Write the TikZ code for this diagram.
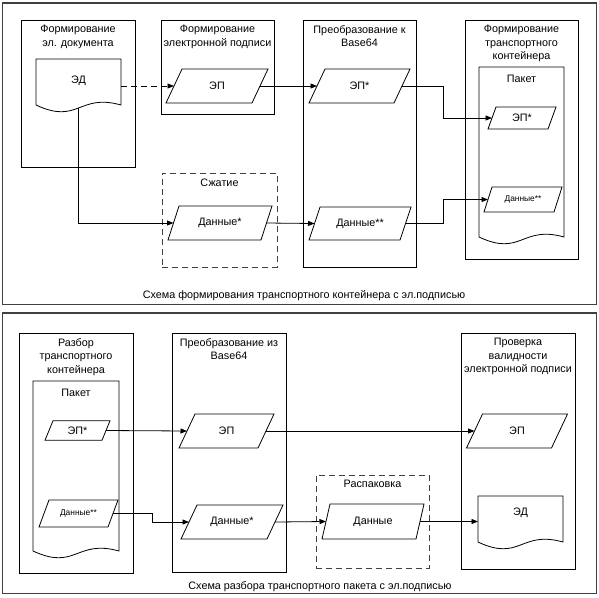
\documentclass[tikz,border=0pt]{standalone}
\usepackage{fontspec}
\setmainfont{Liberation Sans}
\usetikzlibrary{arrows.meta,fit}

% parallelogram (data) node: name, cx, cy, width, height, slant, text
\newcommand\dataio[7]{%
  \node[iobox, minimum width=#4, minimum height=#5] (#1) at (#2,#3) {#7};
  \draw[ioline] ([xshift=#6/2]#1.north west) -- ([xshift=#6/2]#1.north east)
    -- ([xshift=-#6/2]#1.south east) -- ([xshift=-#6/2]#1.south west) -- cycle;
}
% document shape with a wavy bottom: name, x0, y0, x1, y1 (end of the sides)
\newcommand\docshape[5]{%
  \node[docbox, fit={(#2,#3) (#4,#5)}] (#1) {};
  \draw[ioline] (#1.south west) -- (#1.north west) -- (#1.north east) -- (#1.south east)
    .. controls ([yshift=12]#1.south) and ([yshift=-20]#1.south) .. (#1.south west);
}

\begin{document}
\begin{tikzpicture}[x=1pt,y=-1pt,
  every node/.style={font=\fontsize{10.8}{13.3}\selectfont},
  iobox/.style={rectangle, inner sep=0pt, outer sep=0pt},
  docbox/.style={rectangle, inner sep=0pt, outer sep=0pt},
  ioline/.style={draw=black, line width=0.8pt},
  stagebox/.style={draw=black, line width=0.8pt, inner sep=0pt, outer sep=0pt},
  dashbox/.style={draw=black!75, line width=1pt, dash pattern=on 6pt off 4pt, inner sep=0pt, outer sep=0pt},
  frame/.style={draw=black!75, line width=1.4pt, inner sep=0pt},
  boxtitle/.style={anchor=north, inner xsep=0pt, inner ysep=5.3pt, align=center},
  arr/.style={-{Triangle[length=6.5pt,width=5pt]}, line width=0.8pt},
  dasharr/.style={arr, dash pattern=on 6pt off 4pt}]
\useasboundingbox (0,0) rectangle (599,597);

% ---------------- outer frames ----------------
\node[frame, fit={(2.5,3) (596.5,304.5)}] (top) {};
\node[frame, fit={(2.5,313) (596.5,593.5)}] (bottom) {};

% ================ forming the transport container ================
\node[stagebox, fit={(21,20) (135,167)}] (b1) {};
\node[boxtitle] (t1) at (b1.north) {Формирование\\эл. документа};
\node[stagebox, fit={(161,20) (274,114)}] (b2) {};
\node[boxtitle] (t2) at (b2.north) {Формирование\\электронной подписи};
\node[stagebox, fit={(303,20) (416,267)}] (b3) {};
\node[boxtitle] (t3) at (b3.north) {Преобразование к\\Base64};
\node[stagebox, fit={(465,20) (578,259)}] (b4) {};
\node[boxtitle] (t4) at (b4.north) {Формирование\\транспортного\\контейнера};
\node[dashbox, fit={(162,173) (277,267)}] (zip) {};
\node[boxtitle] (tzip) at (zip.north) {Сжатие};

\docshape{pak1}{479}{67}{564}{237}
\node[boxtitle, inner ysep=7.5pt] (tpak1) at (pak1.north) {Пакет};

\docshape{ed}{36}{59}{121}{105}
\node (edtxt) at (78.5,81) {ЭД};
\coordinate (edbot) at ([yshift=-3]ed.south);

\dataio{ep1}{217}{86}{86}{34}{16}{ЭП}
\dataio{ep2}{359.5}{86}{85}{34}{16}{ЭП*}
\dataio{ep3}{522}{118}{60}{22}{8}{ЭП*}
\dataio{d1}{220}{223}{93}{34}{11}{Данные*}
\dataio{d2}{360}{223.5}{91}{33}{11}{Данные**}
\dataio{d3}{523}{199.5}{70}{25}{8}{\fontsize{8.4}{10}\selectfont Данные**}

\coordinate (j1) at (443,0);
\draw[dasharr] (ep1.west -| ed.east) -- (ep1.west);
\draw[arr] (ep1.east) -- (ep2.west);
\draw[arr] (ep2.east) -- (ep2.east -| j1) |- (ep3.west);
\draw[arr] (edbot) |- (d1.west);
\draw[arr] (d1.east) -- (d2.west);
\draw[arr] (d2.east) -- (d2.east -| j1) |- (d3.west);

\node (cap1) at (304,296) {Схема формирования транспортного контейнера с эл.подписью};

% ================ parsing the transport package ================
\node[stagebox, fit={(19,333) (133,573)}] (b5) {};
\node[boxtitle] (t5) at (b5.north) {Разбор\\транспортного\\контейнера};
\node[stagebox, fit={(172,333) (286,572)}] (b6) {};
\node[boxtitle] (t6) at (b6.north) {Преобразование из\\Base64};
\node[stagebox, fit={(461,333) (575,569)}] (b7) {};
\node[boxtitle] (t7) at (b7.north) {Проверка\\валидности\\электронной подписи};
\node[dashbox, fit={(316,475) (429,568)}] (unzip) {};
\node[boxtitle] (tunzip) at (unzip.north) {Распаковка};

\docshape{pak2}{33}{381}{119}{551}
\node[boxtitle, inner ysep=7.5pt] (tpak2) at (pak2.north) {Пакет};

\docshape{ed2}{478}{496}{563}{542}
\node (ed2txt) at (520.5,513) {ЭД};

\dataio{ep4}{77.5}{430.5}{57}{19.5}{8}{ЭП*}
\dataio{d4}{78.5}{513.5}{69}{27}{10}{\fontsize{8.4}{10}\selectfont Данные**}
\dataio{ep5}{226.5}{431}{79}{34}{16}{ЭП}
\dataio{d5}{232}{522}{86}{34}{16}{Данные*}
\dataio{d6}{373}{521.5}{94}{35}{8}{Данные}
\dataio{ep6}{517}{431}{85}{34}{16}{ЭП}

\coordinate (j2) at (152,0);
\draw[arr] (ep4.east) -- (ep5.west);
\draw[arr] (ep5.east) -- (ep6.west);
\draw[arr] (d4.east) -- (d4.east -| j2) |- (d5.west);
\draw[arr] (d5.east) -- (d6.west);
\draw[arr] (d6.east) -- (d6.east -| ed2.west);

\node (cap2) at (320,587) {Схема разбора транспортного пакета с эл.подписью};
\end{tikzpicture}
\end{document}
